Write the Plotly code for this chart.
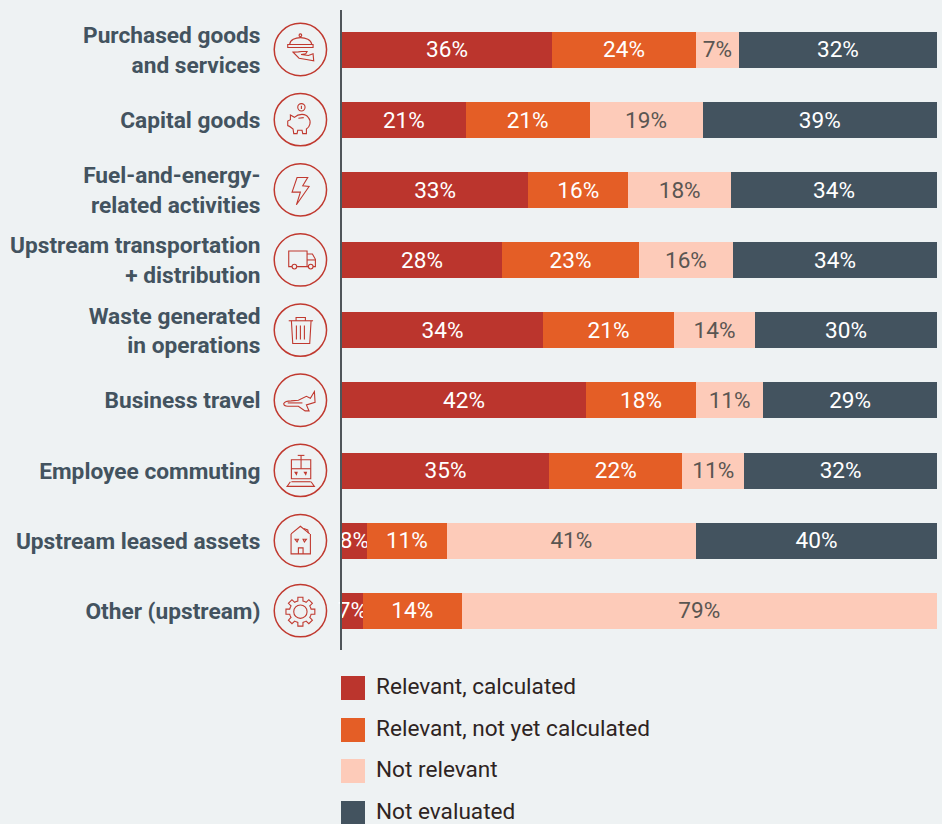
import math
import re
import plotly.graph_objects as go

W, H = 942, 824

categories = [
    "Purchased goods<br>and services", "Capital goods",
    "Fuel-and-energy-<br>related activities", "Upstream transportation<br>+ distribution",
    "Waste generated<br>in operations", "Business travel", "Employee commuting",
    "Upstream leased assets", "Other (upstream)",
]
series_names = ["Relevant, calculated", "Relevant, not yet calculated", "Not relevant", "Not evaluated"]
series_colors = ["#bb352d", "#e45e26", "#fdcbb9", "#43535f"]
text_colors = ["#ffffff", "#ffffff", "#5a5652", "#ffffff"]

calculated = [35.3, 20.8, 31.3, 26.9, 33.8, 41.0, 34.8, 4.2, 3.5]
not_yet = [24.2, 20.8, 16.8, 23.0, 22.0, 18.5, 22.4, 13.4, 16.6]
not_relevant = [7.2, 19.0, 17.3, 15.8, 13.6, 11.3, 10.4, 41.9, 79.9]
not_evaluated = [33.3, 39.4, 34.6, 34.3, 30.6, 29.2, 32.4, 40.5, 0]

labels_calculated = ["36%", "21%", "33%", "28%", "34%", "42%", "35%", "8%", "7%"]
labels_not_yet = ["24%", "21%", "16%", "23%", "21%", "18%", "22%", "11%", "14%"]
labels_not_relevant = ["7%", "19%", "18%", "16%", "14%", "11%", "11%", "41%", "79%"]
labels_not_evaluated = ["32%", "39%", "34%", "34%", "30%", "29%", "32%", "40%", ""]

values = [calculated, not_yet, not_relevant, not_evaluated]
labels = [labels_calculated, labels_not_yet, labels_not_relevant, labels_not_evaluated]

BG = "#eef2f3"
RED = "#c0392f"

fig = go.Figure()
for name, vals, txt, col, tcol in zip(series_names, values, labels, series_colors, text_colors):
    fig.add_trace(go.Bar(
        name=name, y=categories, x=vals, orientation="h", text=txt,
        marker=dict(color=col, line=dict(width=0)),
        textposition="inside", insidetextanchor="middle", constraintext="none",
        textangle=0, cliponaxis=False,
        textfont=dict(family="Roboto", size=22.6, color=tcol),
        hoverinfo="name+x",
    ))


# ---- decorative icons, drawn in a 180-unit box around each circle's centre ----
def px(x):
    return x / W


def py(y):
    return 1 - y / H


def to_paper(d, cx, cy):
    """Map an icon path from its local 180-unit box to paper coordinates."""
    toks = re.findall(r"[MLCQZ]|-?\d+\.?\d*", d)
    out, nums = [], []
    for t in toks:
        if t in "MLCQZ":
            out.append(t)
        else:
            nums.append(float(t))
            if len(nums) == 2:
                x = cx + (nums[0] - 90) / 3
                y = cy + (nums[1] - 90) / 3
                out.append(f"{px(x):.5f},{py(y):.5f}")
                nums = []
    return " ".join(out)


def ring(x, y, r):
    k = 0.5523 * r
    return (f"M{x-r} {y} C{x-r} {y-k} {x-k} {y-r} {x} {y-r} C{x+k} {y-r} {x+r} {y-k} {x+r} {y} "
            f"C{x+r} {y+k} {x+k} {y+r} {x} {y+r} C{x-k} {y+r} {x-r} {y+k} {x-r} {y} Z")


def gear_path():
    pts = []
    teeth = 8
    for i in range(teeth):
        a = 2 * math.pi * i / teeth - math.pi / 2
        step = 2 * math.pi / teeth
        for da, r in [(-0.5, 33), (-0.3, 33), (-0.22, 44), (0.22, 44), (0.3, 33), (0.5, 33)]:
            t = a + da * step
            pts.append((90 + r * math.cos(t), 93 + r * math.sin(t)))
    return "M" + " L".join(f"{x:.1f} {y:.1f}" for x, y in pts) + " Z"


icons = [
    # cloche and hand
    ["M58 74 C60 48 120 48 124 74", ring(90, 47, 4), "M52 75 L128 75 L128 84 L52 84 Z",
     "M68 98 L84 97 L94 96 L110 96 L106 103 L92 105 L114 108 L128 103 L130 124 L108 120 L86 116 Z"],
    # piggy bank and coin
    [ring(93, 53, 11), "M93 48 L93 58",
     "M60 76 L72 83 C84 72 106 70 114 84 C124 96 118 112 108 118 L108 132 L97 132 L95 122 "
     "L82 122 L80 132 L70 132 L68 118 C62 114 60 110 52 108 L52 94 L60 90 Z",
     "M84 86 L100 84"],
    # lightning bolt
    ["M80 53 L112 53 L97 78 L116 80 L78 135 L90 97 L65 97 Z"],
    # truck
    ["M65 110 L55 110 L55 63 L110 63 L110 110 L80 110", "M110 72 L126 72 L135 88 L135 110 L128 110",
     "M110 90 L135 90", "M114 110 L110 110", ring(72, 110, 7), ring(121, 110, 7)],
    # waste bin
    ["M55 62 L128 62", "M77 62 L77 52 L105 52 L105 62", "M63 62 L67 130 L118 130 L122 62",
     "M78 76 L78 118", "M90 76 L90 118", "M102 76 L102 118"],
    # aeroplane
    ["M40 100 C44 93 52 92 62 92 L84 90 L108 78 L120 84 L132 64 L134 96 L108 104 L116 122 L104 122 "
     "L84 108 L52 108 C44 108 40 105 40 100 Z", "M52 98 L96 98"],
    # tram
    ["M82 45 L102 45", "M92 45 L92 58", "M63 58 L121 58 L121 115 L63 115 Z", "M63 85 L121 85", "M92 58 L92 85",
     "M74 96 L80 96 L78 102 Z", "M102 96 L108 96 L106 102 Z", "M63 124 L121 124",
     "M60 124 L50 138 L132 138 L122 124"],
    # house
    ["M62 70 L90 47 L118 70", "M62 70 L62 130 L120 130 L120 70", "M84 130 L84 112 L98 112 L98 130",
     "M100 54 L112 58 L114 68", "M74 86 L84 86 L80 94 Z", "M98 86 L108 86 L102 94 Z"],
    # gear
    [gear_path(), ring(90, 93, 20)],
]

shapes = []
ICON_X = 300.4
for i, parts in enumerate(icons):
    cy = 49.5 + 70.15 * i
    shapes.append(dict(type="path", xref="paper", yref="paper",
                       path=to_paper(ring(90, 90, 78.5), ICON_X, cy),
                       line=dict(color=RED, width=1.5), fillcolor="rgba(0,0,0,0)"))
    for d in parts:
        shapes.append(dict(type="path", xref="paper", yref="paper",
                           path=to_paper(d, ICON_X, cy),
                           line=dict(color=RED, width=1.1), fillcolor="rgba(0,0,0,0)"))

# ---- legend, built as swatches and text so it can match the large square keys ----
annotations = []
legend_tops = [676, 718, 759, 801]
for name, col, top in zip(series_names, series_colors, legend_tops):
    shapes.append(dict(type="rect", xref="paper", yref="paper", layer="above",
                       x0=px(341), x1=px(365), y0=py(top), y1=py(top + 24),
                       fillcolor=col, line=dict(width=0)))
    annotations.append(dict(xref="paper", yref="paper", x=px(374), y=py(top + 10),
                            xanchor="left", yanchor="middle", showarrow=False, text=name,
                            font=dict(family="Roboto", size=22.6, color="#2e2422")))

fig.update_layout(
    width=W, height=H, autosize=False, barmode="stack", bargap=0.486,
    paper_bgcolor=BG, plot_bgcolor=BG, showlegend=False,
    margin=dict(l=0, r=0, t=0, b=0), shapes=shapes, annotations=annotations,
    font=dict(family="Roboto"),
    xaxis=dict(domain=[342 / W, 937 / W], range=[0, 100], visible=False, fixedrange=True),
    yaxis=dict(
        domain=[1 - 650 / H, 1 - 10 / H], range=[8.56, -0.57], type="category",
        categoryorder="array", categoryarray=categories,
        showline=True, linecolor="#4f5559", linewidth=2, showgrid=False, zeroline=False,
        ticks="outside", ticklen=75, tickwidth=0, tickcolor=BG, fixedrange=True,
        tickfont=dict(family="Roboto", size=22.7, color="#43535f", weight=700),
    ),
)

fig.write_html("out.html", config={"displayModeBar": False, "responsive": False},
               post_script="document.body.style.margin='0';document.body.style.background='#eef2f3';")
